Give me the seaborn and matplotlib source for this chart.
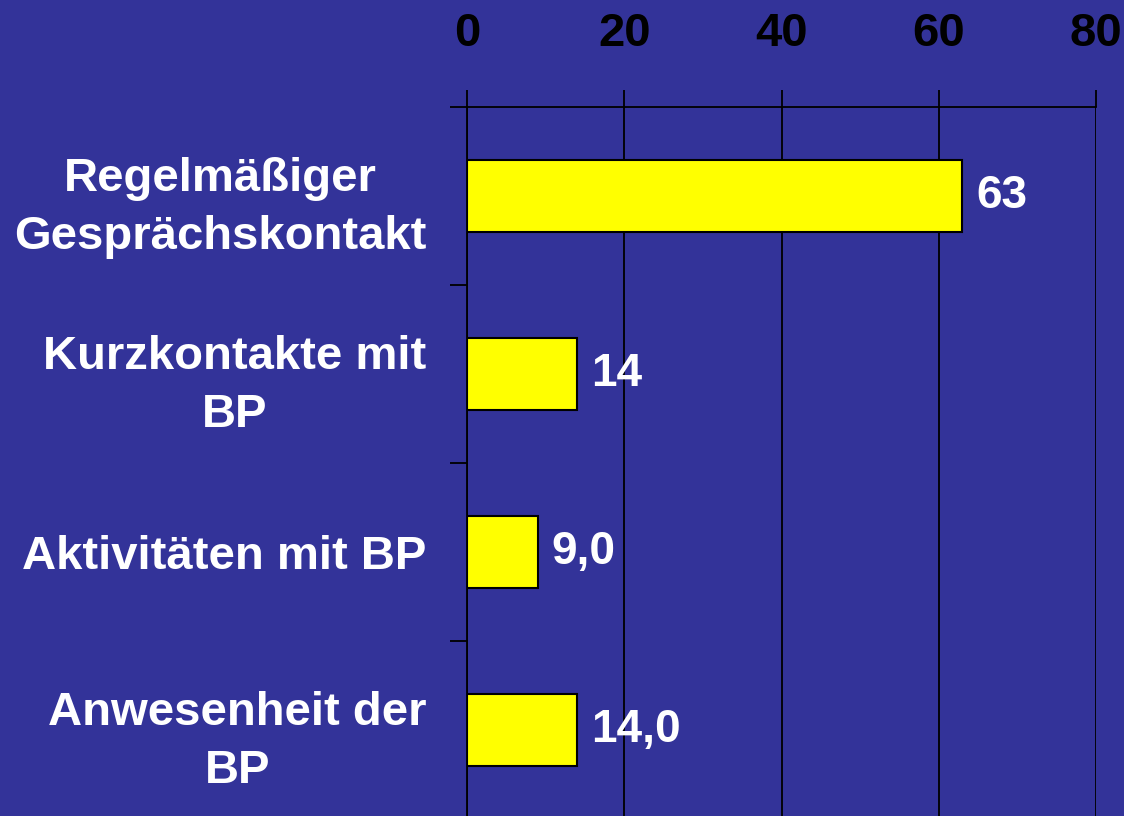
import numpy as np
import pandas as pd
import matplotlib
matplotlib.use("Agg")
import matplotlib.pyplot as plt
import seaborn as sns

categories = ["Regelmäßiger\nGesprächskontakt", "Kurzkontakte mit\nBP",
              "Aktivitäten mit BP", "Anwesenheit der\nBP"]
values = [63, 14, 9.0, 14.0]
value_labels = ["63", "14", "9,0", "14,0"]
x_ticks = [0, 20, 40, 60, 80]

bg = "#333399"

sns.set_theme(style="white")
plt.rcParams['font.family'] = ['Liberation Sans', 'DejaVu Sans']
plt.rcParams['font.weight'] = 'bold'

df = pd.DataFrame({"kategorie": categories, "wert": values})

fig = plt.figure(figsize=(11.24, 8.16), dpi=100, facecolor=bg)
ax = fig.add_axes([467 / 1124, 1 - 819 / 816, 629 / 1124, 712 / 816])
ax.set_facecolor(bg)

sns.barplot(data=df, x="wert", y="kategorie", orient="h", width=0.41,
            color="#FFFF00", edgecolor="black", linewidth=1.5, saturation=1,
            ax=ax, zorder=3)

ax.set_xlim(0, 80)
ax.set_ylim(3.5, -0.5)
ax.set_xticks(x_ticks)
ax.xaxis.tick_top()
ax.tick_params(axis="x", which="major", direction="out", length=12, width=1.3,
               color="black", pad=25, labelsize=34, labelcolor="black")
ax.grid(axis="x", color="black", linewidth=1.3, zorder=1)
ax.grid(axis="y", visible=False)

# category labels at the centres, tick marks at the boundaries
ax.set_yticks(range(len(categories)))
ax.set_yticklabels(categories, fontsize=34, color="white", fontweight="bold",
                   linespacing=1.4, ha="right", multialignment="center")
ax.tick_params(axis="y", which="major", length=0, pad=29)
ax.set_yticks(np.arange(-0.5, len(categories), 1.0), minor=True)
ax.tick_params(axis="y", which="minor", direction="out", length=12, width=1.3,
               color="black", left=True)

for lbl in ax.get_xticklabels():
    lbl.set_fontweight("bold")

for side in ["top", "left"]:
    ax.spines[side].set_color("black")
    ax.spines[side].set_linewidth(1.3)
ax.spines["right"].set_visible(False)
ax.spines["bottom"].set_visible(False)

ax.bar_label(ax.containers[0], labels=value_labels, padding=10,
             fontsize=33, color="white", fontweight="bold")

ax.set_xlabel("")
ax.set_ylabel("")

fig.savefig("out.png", dpi=100, facecolor=bg)
